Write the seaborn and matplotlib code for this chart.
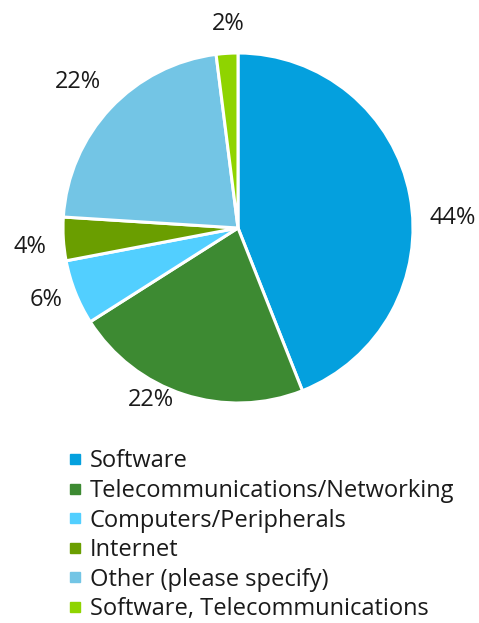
import matplotlib
matplotlib.use("Agg")
import matplotlib.pyplot as plt
from matplotlib.lines import Line2D
import seaborn as sns
import pandas as pd

categories = ["Software", "Telecommunications/Networking", "Computers/Peripherals",
              "Internet", "Other (please specify)", "Software, Telecommunications"]
shares = [44, 22, 6, 4, 22, 2]
colors = ["#04A0DE", "#3D8A32", "#52CFFF", "#6A9E00", "#73C5E5", "#8FD400"]

df = pd.DataFrame({"category": categories, "share": shares, "color": colors})

# small nudges of the percentage labels (in radius units), like the spreadsheet's placement
label_nudge = [(0.05, -0.17), (-0.126, 0.16), (0.017, 0.029),
               (0.011, -0.034), (-0.04, 0.011), (0.017, -0.034)]

sns.set_theme(style="white")
plt.rcParams["font.family"] = ["Open Sans", "DejaVu Sans"]

fig = plt.figure(figsize=(4.79, 6.23), dpi=100)
# pie axes: centre ~(238, 228) px, radius ~175 px
ax = fig.add_axes([(238 - 175) / 479, (623 - 228 - 175) / 623, 350 / 479, 350 / 623])
wedges, texts = ax.pie(df["share"], colors=df["color"], startangle=90, counterclock=False,
                       radius=1, labels=[f"{v}%" for v in df["share"]], labeldistance=1.2,
                       wedgeprops=dict(edgecolor="white", linewidth=2.2))
for t, (nx, ny) in zip(texts, label_nudge):
    x, y = t.get_position()
    t.set_position((x + nx, y + ny))
    t.set_ha("center")
    t.set_va("center")
    t.set_fontsize(17)
    t.set_color("#1a1a1a")
ax.set_xlim(-1, 1)
ax.set_ylim(-1, 1)
ax.set_aspect("equal")
ax.axis("off")

handles = [Line2D([0], [0], marker="s", color="none", markerfacecolor=c, markeredgecolor=c,
                  markersize=6.5) for c in df["color"]]
fig.legend(handles, df["category"], loc="upper left", bbox_to_anchor=(58 / 479, 1 - 440 / 623),
           frameon=False, fontsize=17, handlelength=0.6, handletextpad=0.35,
           labelspacing=0.235, borderaxespad=0, labelcolor="#1a1a1a")

fig.savefig("out.png", dpi=100)
